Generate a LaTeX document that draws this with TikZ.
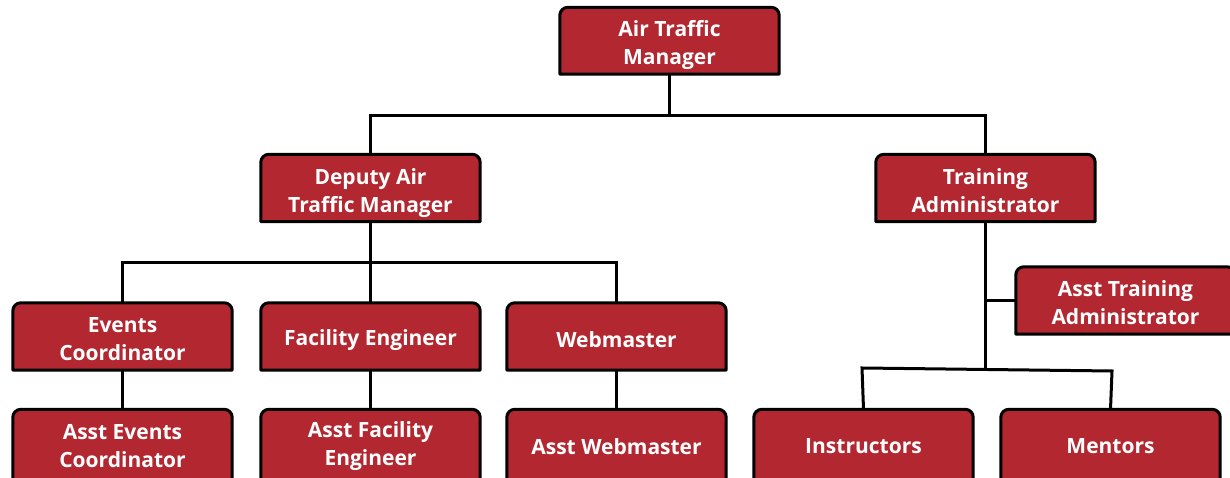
\documentclass[tikz,border=0pt]{standalone}
\usepackage{fontspec}
\setmainfont{Open Sans}
\usetikzlibrary{backgrounds}
\definecolor{boxred}{RGB}{179,39,48}
\tikzset{
  orgbox/.style={rectangle, draw=none, inner sep=0pt, minimum width=219pt, minimum height=67pt},
  lowbox/.style={orgbox, minimum height=72.5pt},
  txt/.style={inner sep=0pt, align=center, text=white, font=\bfseries\fontsize{21}{28}\selectfont},
  boxline/.style={draw=black, line width=3pt, fill=boxred, line join=round},
  link/.style={draw=black, line width=3pt, line join=miter}
}
\newcommand\orgshape[1]{\draw[boxline] (#1.south west) -- ([yshift=-8pt]#1.north west)
  arc[start angle=180,end angle=90,radius=8pt] -- ([xshift=-8pt]#1.north east)
  arc[start angle=90,end angle=0,radius=8pt] -- (#1.south east) -- cycle;}
\begin{document}
\begin{tikzpicture}[x=1pt,y=1pt]
\useasboundingbox (0,0) rectangle (1230,478);
\clip (0,0) rectangle (1230,478);
% boxes
\node[orgbox, minimum height=66.5pt] (atm) at (669.5,437.25) {};
\node[orgbox] (dep) at (370.5,290) {};
\node[orgbox] (tra) at (985.5,290) {};
\node[orgbox] (evt) at (122.5,141.5) {};
\node[orgbox] (fac) at (370.5,141.5) {};
\node[orgbox] (web) at (616.5,141.5) {};
\node[orgbox] (ata) at (1125.5,177.5) {};
\node[lowbox] (aev) at (122.5,32.25) {};
\node[lowbox] (afe) at (370.5,32.25) {};
\node[lowbox] (awb) at (616.5,32.25) {};
\node[lowbox] (ins) at (863.5,32.25) {};
\node[lowbox] (men) at (1110.5,32.25) {};
\begin{pgfonlayer}{background}
\foreach \n in {atm,dep,tra,evt,fac,web,ata,aev,afe,awb,ins,men}{\orgshape{\n}}
\end{pgfonlayer}
% texts
\node[txt] (atm-t) at ([yshift=-4pt]atm.center) {Air Traffic\\Manager};
\node[txt] (dep-t) at ([yshift=-5pt]dep.center) {Deputy Air\\Traffic Manager};
\node[txt] (tra-t) at ([yshift=-2.5pt]tra.center) {Training\\Administrator};
\node[txt] (evt-t) at ([yshift=-3pt]evt.center) {Events\\Coordinator};
\node[txt] (fac-t) at ([yshift=-4pt]fac.center) {Facility Engineer};
\node[txt] (web-t) at ([yshift=-3pt]web.center) {Webmaster};
\node[txt] (ata-t) at ([yshift=-2pt]ata.center) {Asst Training\\Administrator};
\node[txt] (aev-t) at ([yshift=-0.5pt]aev.center) {Asst Events\\Coordinator};
\node[txt] (afe-t) at ([yshift=-0.5pt]afe.center) {Asst Facility\\Engineer};
\node[txt] (awb-t) at ([yshift=-0.5pt]awb.center) {Asst Webmaster};
\node[txt] (ins-t) at ([yshift=-0.5pt]ins.center) {Instructors};
\node[txt] (men-t) at ([yshift=-0.5pt]men.center) {Mentors};
% connectors
\coordinate (j1) at (669.5,362);
\draw[link] (atm.south) -- (j1);
\draw[link] (dep.north) |- (j1) -| (tra.north);
\coordinate (j2) at (370.5,215);
\draw[link] (dep.south) -- (fac.north);
\draw[link] (evt.north) |- (j2) -| (web.north);
\draw[link] (evt.south) -- (aev.north);
\draw[link] (fac.south) -- (afe.north);
\draw[link] (web.south) -- (awb.north);
\coordinate (j3) at (985.5,110);
\coordinate (j4) at (985.5,177.5);
\draw[link] (tra.south) -- (j3);
\draw[link] (j4) -- (ata.west);
\coordinate (il) at (862,110);
\coordinate (mr) at (1112,107);
\draw[link] (ins.north) -- (il) -- (mr) -- (men.north);
\end{tikzpicture}
\end{document}
